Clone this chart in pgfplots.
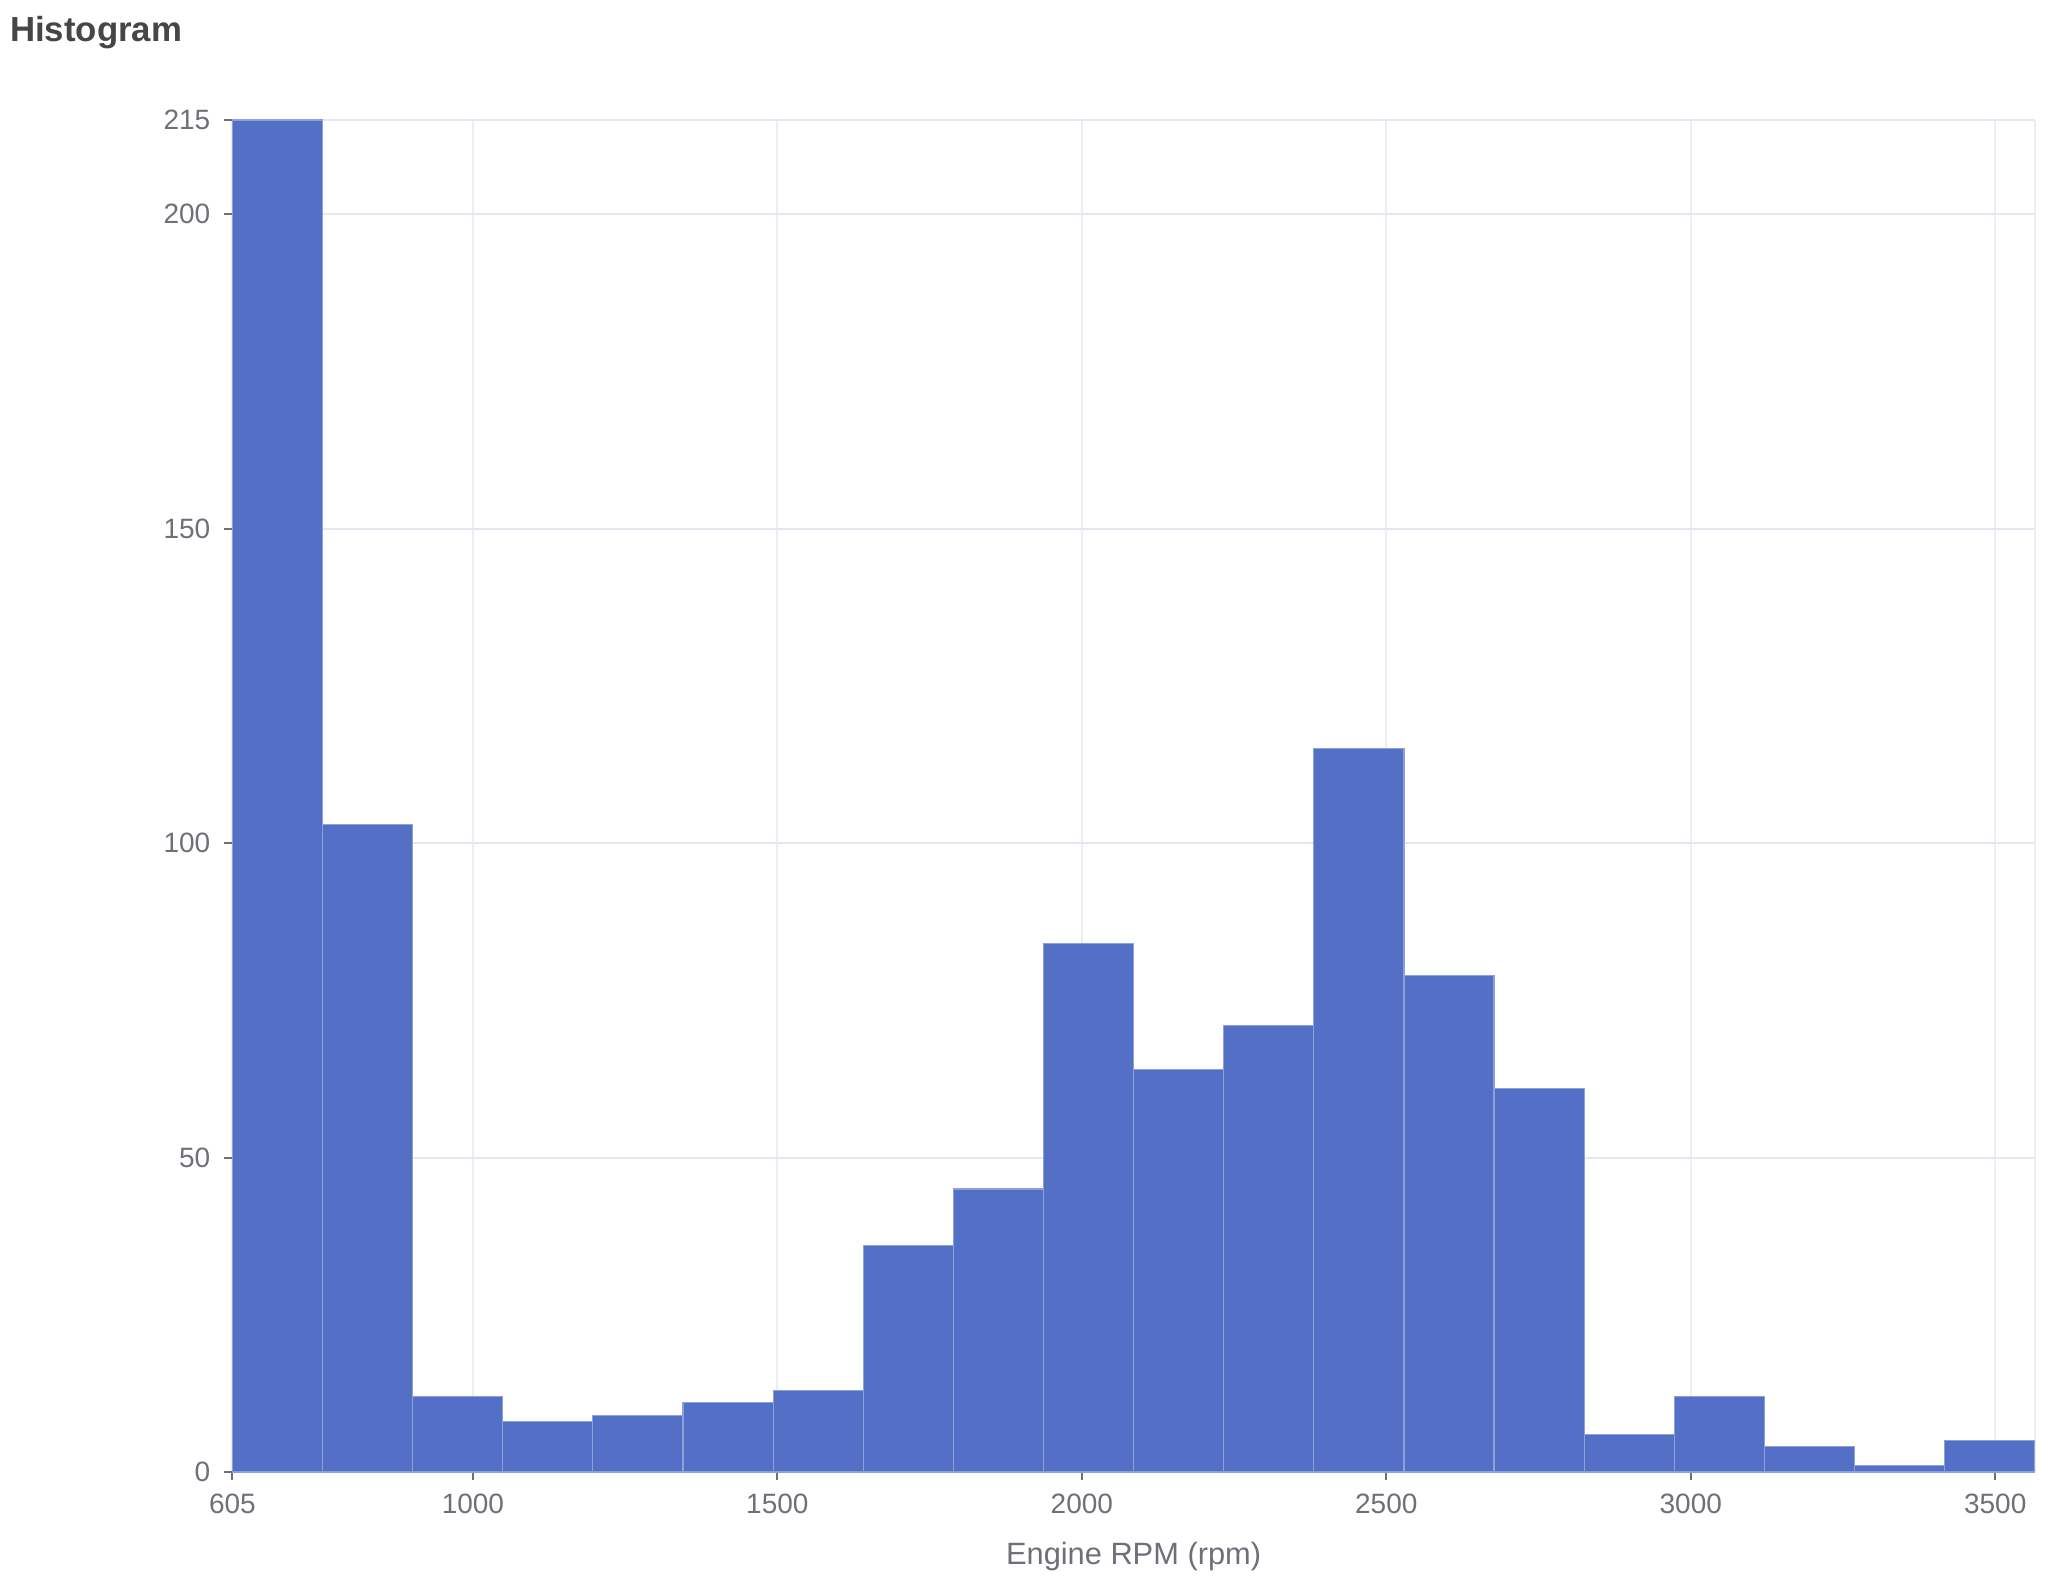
\documentclass[border=0pt]{standalone}
\usepackage{pgfplots}
\pgfplotsset{compat=1.18}
\usepackage{fontspec}
\setmainfont{Liberation Sans}
\definecolor{barblue}{RGB}{84,112,198}
\definecolor{baredge}{RGB}{140,160,220}
\definecolor{gridc}{RGB}{226,231,242}
\definecolor{vgridc}{RGB}{236,238,243}
\definecolor{axisc}{RGB}{110,112,121}
\definecolor{titlec}{RGB}{70,70,70}
\begin{document}
\begin{tikzpicture}
\path[use as bounding box] (0,0) rectangle (512pt,396pt);
\begin{axis}[
  at={(58.1pt,28pt)}, anchor=south west,
  scale only axis, width=450.6pt, height=338pt,
  xmin=605, xmax=3565, ymin=0, ymax=215,
  xtick={605,1000,1500,2000,2500,3000,3500},
  extra x ticks={3565}, extra x tick labels={}, extra x tick style={major tick length=0pt, grid=major},
  ytick={0,50,100,150,200,215},
  xmajorgrids, ymajorgrids,
  y grid style={gridc, line width=0.5pt},
  x grid style={vgridc, line width=0.5pt},
  axis x line*=bottom, axis y line*=left,
  x axis line style={axisc, line width=0.6pt, -},
  y axis line style={draw=none},
  tick style={axisc, line width=0.5pt},
  tick align=outside, major tick length=2pt,
  ticklabel style={font=\fontsize{7}{8}\selectfont, text=axisc},
  /pgf/number format/assume math mode=true,
  /pgf/number format/1000 sep={},
  scaled ticks=false,
  xlabel={Engine RPM (rpm)},
  xlabel style={at={(axis description cs:0.5,0)}, anchor=base, yshift=-23.25pt, font=\fontsize{7.7}{9}\selectfont, text=axisc},
  clip=false,
]
\addplot[ybar interval, fill=barblue, draw=baredge, line width=0.3pt] coordinates {
(605,215) (753,103) (901,12) (1049,8) (1197,9) (1345,11) (1493,13) (1641,36) (1789,45) (1937,84)
(2085,64) (2233,71) (2381,115) (2529,79) (2677,61) (2825,6) (2973,12) (3121,4) (3269,1) (3417,5) (3565,5)
};
\end{axis}
\node[anchor=base west, inner sep=0pt, font=\fontsize{8.7}{10}\selectfont\bfseries, text=titlec] at (2.3pt,385.5pt) {Histogram};
\end{tikzpicture}
\end{document}
